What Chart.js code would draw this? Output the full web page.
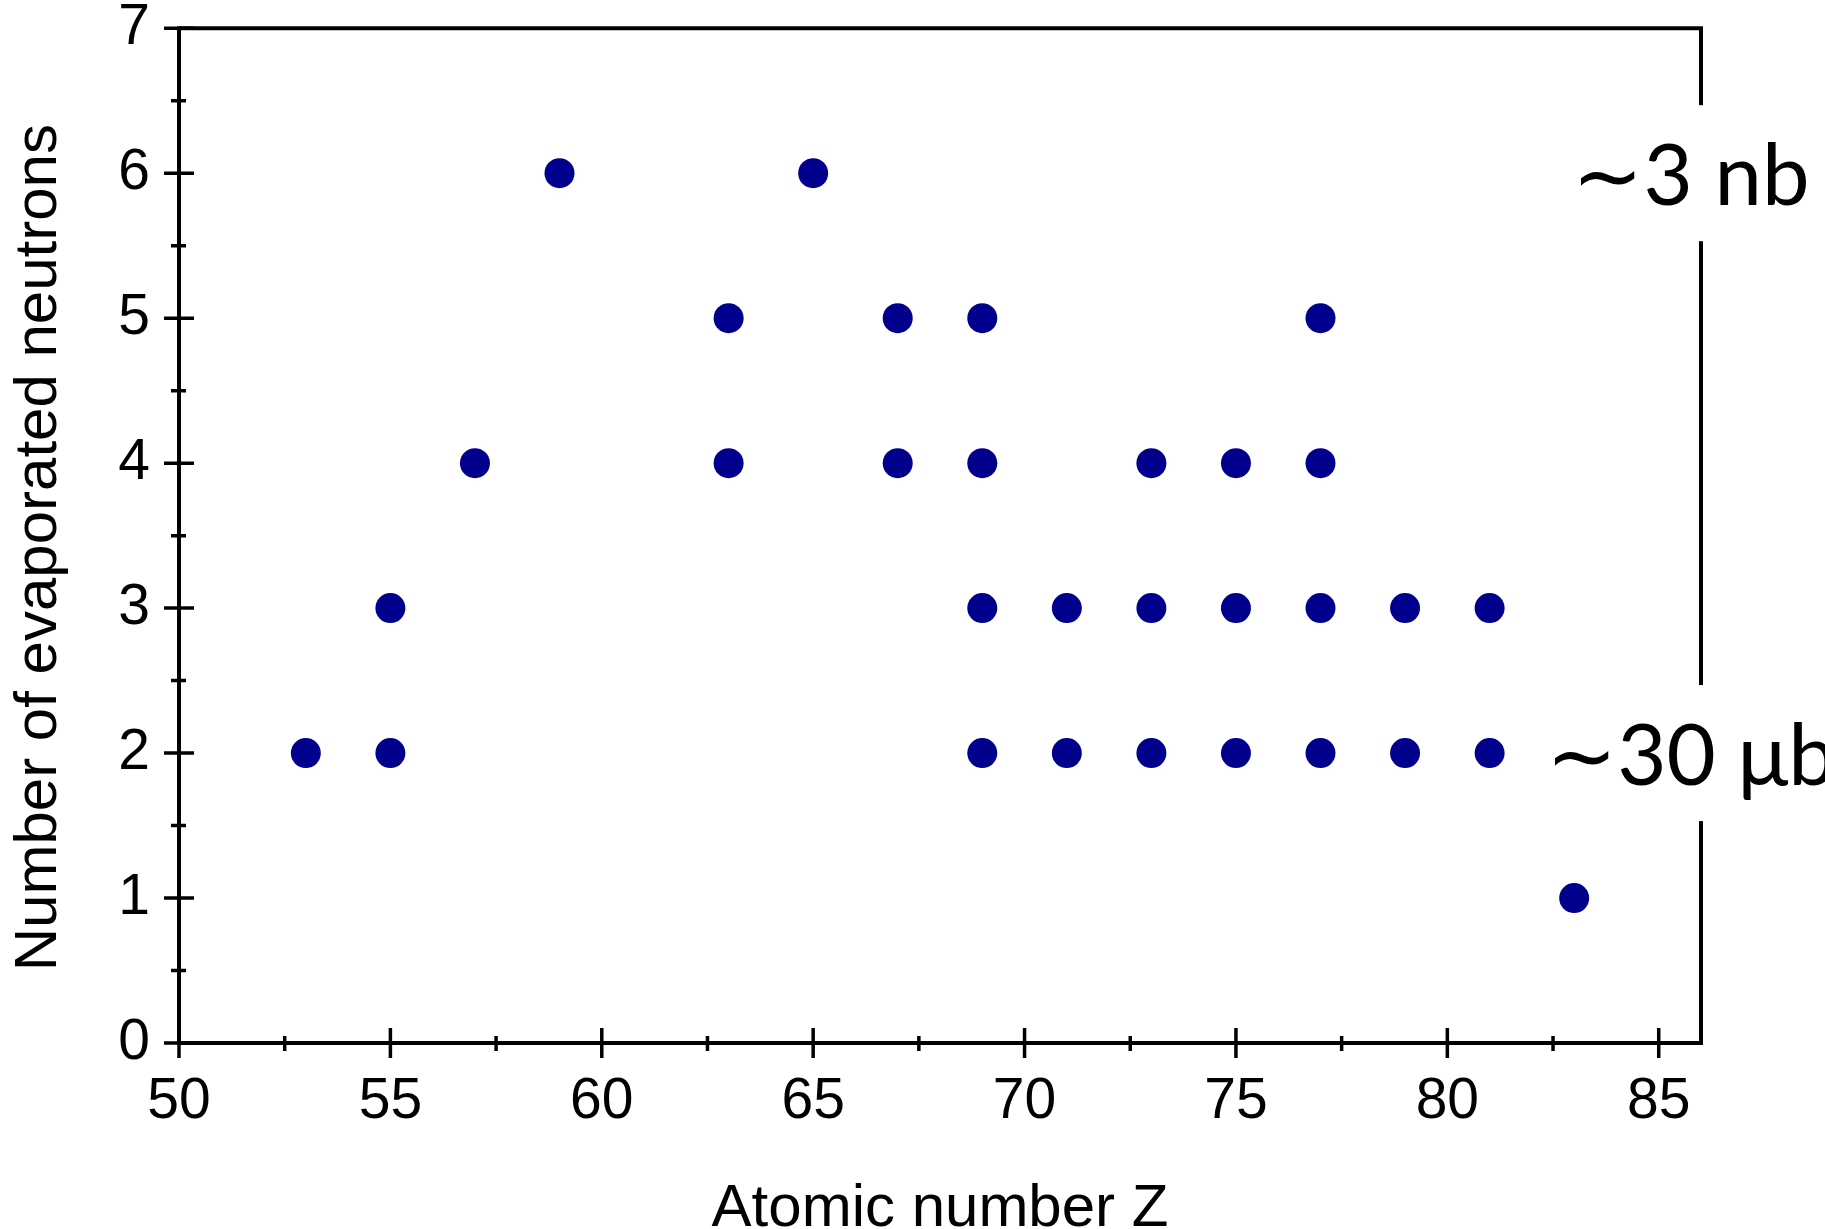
<!DOCTYPE html>
<html>
<head>
<meta charset="utf-8">
<script src="https://cdn.jsdelivr.net/npm/chart.js@4.4.1/dist/chart.umd.min.js"></script>
<style>
  html, body { margin: 0; padding: 0; background: #ffffff; }
  #wrap { width: 1825px; height: 1229px; }
</style>
</head>
<body>
<div id="wrap"><canvas id="c" width="1825" height="1229"></canvas></div>
<script>
// ---- data ----
const atomicNumberZ = [53, 55, 55, 57, 59, 63, 63, 65, 67, 67, 69, 69, 69, 69, 71, 71, 73, 73, 73, 75, 75, 75, 77, 77, 77, 77, 79, 79, 81, 81, 83];
const evaporatedNeutrons = [2, 2, 3, 4, 6, 4, 5, 6, 4, 5, 2, 3, 4, 5, 2, 3, 2, 3, 4, 2, 3, 4, 2, 3, 4, 5, 2, 3, 2, 3, 1];
const xTickLabels = ['50', '55', '60', '65', '70', '75', '80', '85'];
const yTickLabels = ['0', '1', '2', '3', '4', '5', '6', '7'];
const annotationTexts = ['\u223C3 nb', '\u223C30 \u03BCb'];
const annotationLevels = [6, 2];
const xTitle = 'Atomic number Z';
const yTitle = 'Number of evaporated neutrons';

const points = atomicNumberZ.map((z, i) => ({ x: z, y: evaporatedNeutrons[i] }));

const frameAndTicks = {
  id: 'frameAndTicks',
  afterLayout(chart) {
    // nudge the y-axis title slightly below the plot centre, as in the original
    chart.scales.y.bottom += 24;
  },
  afterDraw(chart) {
    const ctx = chart.ctx;
    const a = chart.chartArea;
    const xs = chart.scales.x, ys = chart.scales.y;
    ctx.save();
    ctx.strokeStyle = '#000';
    ctx.lineCap = 'butt';
    // frame
    ctx.lineWidth = 4;
    ctx.beginPath();
    ctx.moveTo(a.left, a.bottom); ctx.lineTo(a.right, a.bottom);
    ctx.moveTo(a.left, a.bottom); ctx.lineTo(a.left, a.top);
    ctx.moveTo(a.left - 2, a.top); ctx.lineTo(a.right + 2, a.top);
    ctx.moveTo(a.right, a.top); ctx.lineTo(a.right, a.bottom + 2);
    ctx.stroke();
    // ticks
    ctx.lineWidth = 3.5;
    ctx.beginPath();
    xs.ticks.forEach(t => {
      const px = xs.getPixelForValue(t.value);
      ctx.moveTo(px, a.bottom - 15); ctx.lineTo(px, a.bottom + 15);
      const mv = t.value + 2.5;
      if (mv < xs.max) {
        const mp = xs.getPixelForValue(mv);
        ctx.moveTo(mp, a.bottom - 7); ctx.lineTo(mp, a.bottom + 8);
      }
    });
    ys.ticks.forEach(t => {
      const py = ys.getPixelForValue(t.value);
      ctx.moveTo(a.left - 15, py); ctx.lineTo(a.left + 15, py);
      const mv = t.value + 0.5;
      if (mv < ys.max) {
        const mp = ys.getPixelForValue(mv);
        ctx.moveTo(a.left - 8, mp); ctx.lineTo(a.left + 7, mp);
      }
    });
    ctx.stroke();
    // annotations on the right border
    ctx.font = '85px Lato, "Noto Sans", sans-serif';
    ctx.textAlign = 'center';
    ctx.textBaseline = 'alphabetic';
    annotationTexts.forEach((txt, i) => {
      const py = ys.getPixelForValue(annotationLevels[i]);
      const cx = a.right - 10;
      const w = ctx.measureText(txt).width;
      ctx.fillStyle = '#fff';
      ctx.fillRect(cx - w / 2 - 6, py - 68, w + 12, 136);
      ctx.fillStyle = '#000';
      ctx.fillText(txt, cx, py + 32);
    });
    ctx.restore();
  }
};

new Chart(document.getElementById('c'), {
  type: 'scatter',
  data: {
    datasets: [{
      data: points,
      backgroundColor: '#00008c',
      borderWidth: 0,
      pointRadius: 15,
      pointHoverRadius: 15
    }]
  },
  options: {
    responsive: false,
    animation: false,
    devicePixelRatio: 1,
    layout: { autoPadding: false, padding: { top: 28, right: 124, left: 0, bottom: 0 } },
    plugins: { legend: { display: false }, tooltip: { enabled: false } },
    scales: {
      x: {
        type: 'linear',
        min: 50, max: 86,
        afterFit(s) { s.height = 186; },
        border: { display: false },
        grid: { display: true, drawOnChartArea: false, drawTicks: true, tickLength: 15, color: 'transparent', tickColor: 'transparent' },
        ticks: {
          stepSize: 5, includeBounds: false, padding: 10, color: '#000', maxRotation: 0,
          font: { family: '"Liberation Sans", Arial, sans-serif', size: 57 },
          callback: (v) => xTickLabels[xTickLabels.indexOf(String(v))] ?? ''
        },
        title: {
          display: true, text: xTitle, color: '#000',
          font: { family: '"Liberation Sans", Arial, sans-serif', size: 60, lineHeight: 0.6 },
          padding: { top: 0, bottom: 2 }
        }
      },
      y: {
        type: 'linear',
        min: 0, max: 7,
        afterFit(s) { s.width = 179; },
        border: { display: false },
        grid: { display: true, drawOnChartArea: false, drawTicks: true, tickLength: 15, color: 'transparent', tickColor: 'transparent' },
        ticks: {
          stepSize: 1, includeBounds: false, padding: 14, color: '#000',
          font: { family: '"Liberation Sans", Arial, sans-serif', size: 57, lineHeight: 0.5 },
          callback: (v) => yTickLabels[yTickLabels.indexOf(String(v))] ?? ''
        },
        title: {
          display: true, text: yTitle, color: '#000',
          font: { family: '"Liberation Sans", Arial, sans-serif', size: 60, lineHeight: 0.6 },
          padding: { top: 21, bottom: 0 }
        }
      }
    }
  },
  plugins: [frameAndTicks]
});
</script>
</body>
</html>
